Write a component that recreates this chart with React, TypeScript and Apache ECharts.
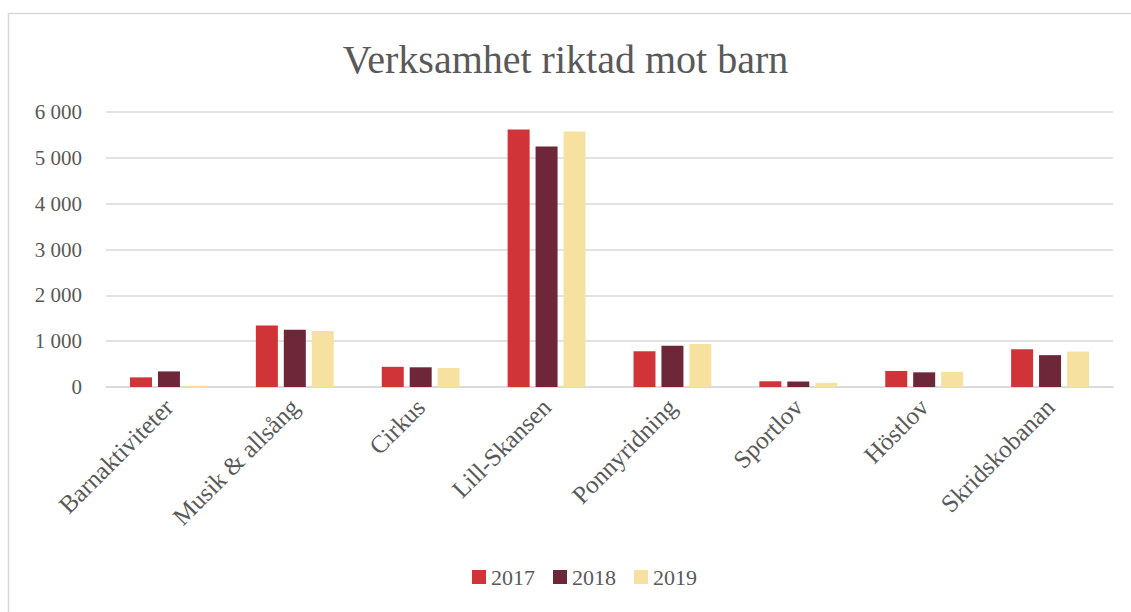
import React, { useEffect, useRef } from "react";
import * as echarts from "echarts";

const categories = [
  "Barnaktiviteter",
  "Musik & allsång",
  "Cirkus",
  "Lill-Skansen",
  "Ponnyridning",
  "Sportlov",
  "Höstlov",
  "Skridskobanan",
];
const values2017 = [210, 1340, 440, 5620, 780, 125, 350, 825];
const values2018 = [340, 1250, 430, 5250, 900, 120, 320, 695];
const values2019 = [30, 1220, 415, 5575, 940, 90, 330, 775];
const seriesNames = ["2017", "2018", "2019"];
const colors = ["#D13438", "#6E2639", "#F7E1A1"];

const FONT = "'Liberation Serif', 'DejaVu Serif', serif";
const TEXT = "#595959";

export default function App() {
  const ref = useRef<HTMLDivElement>(null);
  useEffect(() => {
    if (!ref.current) return;
    const chart = echarts.init(ref.current, undefined, { renderer: "svg" });
    const data = [values2017, values2018, values2019];
    chart.setOption({
      animation: false,
      backgroundColor: "#ffffff",
      title: {
        text: "Verksamhet riktad mot barn",
        left: "center",
        top: 34,
        textStyle: { fontFamily: FONT, fontSize: 40, fontWeight: "normal", color: TEXT },
      },
      graphic: [
        {
          type: "rect",
          shape: { x: 8.5, y: 13.5, width: 1200, height: 700 },
          style: { fill: "none", stroke: "#d9d9d9", lineWidth: 1.5 },
          silent: true,
        },
      ],
      legend: {
        data: seriesNames,
        bottom: 19,
        left: 467,
        itemWidth: 14,
        itemHeight: 14,
        itemGap: 18,
        icon: "rect",
        textStyle: { fontFamily: FONT, fontSize: 22, color: TEXT },
      },
      grid: { left: 106, right: 18, top: 112, bottom: 225, containLabel: false },
      xAxis: {
        type: "category",
        data: categories,
        axisLine: { show: true, lineStyle: { color: "#d9d9d9", width: 1.5 } },
        axisTick: { show: false },
        axisLabel: {
          rotate: 45,
          interval: 0,
          margin: 16,
          fontFamily: FONT,
          fontSize: 25,
          color: TEXT,
        },
      },
      yAxis: {
        type: "value",
        min: 0,
        max: 6000,
        interval: 1000,
        axisLine: { show: false },
        axisTick: { show: false },
        splitLine: { lineStyle: { color: "#d9d9d9", width: 1.5 } },
        axisLabel: {
          margin: 24,
          fontFamily: FONT,
          fontSize: 21,
          color: TEXT,
          formatter: (v: number) => {
            const s = String(v);
            return s.length > 3 ? s.slice(0, s.length - 3) + " " + s.slice(-3) : s;
          },
        },
      },
      series: seriesNames.map((name, i) => ({
        name,
        type: "bar",
        data: data[i],
        barWidth: 22,
        barGap: "27%",
        itemStyle: { color: colors[i] },
      })),
    });
    return () => chart.dispose();
  }, []);
  return (
    <div
      ref={ref}
      style={{ position: "absolute", left: 0, top: 0, width: 1131, height: 612 }}
    />
  );
}
